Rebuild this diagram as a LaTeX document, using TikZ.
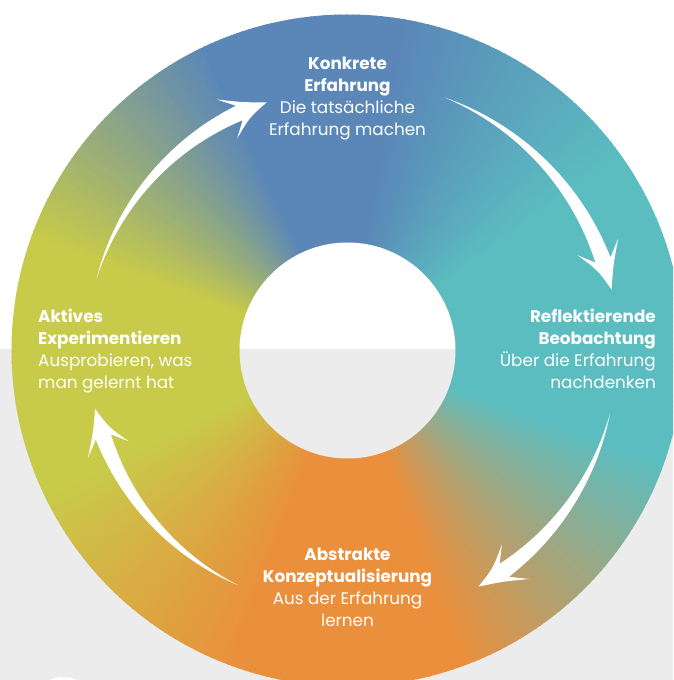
\documentclass[tikz,border=0pt]{standalone}
\usepackage{fontspec}
\setmainfont{Poppins}
\definecolor{cblue}{RGB}{90,135,184}
\definecolor{cteal}{RGB}{91,189,192}
\definecolor{corange}{RGB}{234,143,60}
\definecolor{cyellow}{RGB}{200,202,74}
\definecolor{bggray}{RGB}{236,236,236}
\newcommand\ringarrow[3]{% #1 tail angle, #2 tip angle, #3 radius
  \pgfmathsetmacro\sg{sign((#2)-(#1))}
  \pgfmathsetmacro\an{(#2)-\sg*6.5}
  \pgfmathsetmacro\ab{(#2)-\sg*9.5}
  \pgfmathsetmacro\am{((#2)+\ab)/2}
  \fill[white] plot[domain=0:1,samples=40] ({(#1)+(\an-(#1))*\x}:{#3+8*\x})
    -- ({\ab}:{#3+22}) .. controls ({\am}:{#3+8}) .. ({#2}:{#3})
    .. controls ({\am}:{#3-8}) .. ({\ab}:{#3-22})
    -- ({\an}:{#3-8})
    -- plot[domain=1:0,samples=40] ({(#1)+(\an-(#1))*\x}:{#3-8*\x}) -- cycle;
}
\tikzset{lbl/.style={text=white, inner sep=0pt, font=\fontsize{16.8}{22}\selectfont}}
\begin{document}
\begin{tikzpicture}[x=1pt,y=1pt]
\useasboundingbox (0,0) rectangle (673,680);
\clip (0,0) rectangle (673,680);
\fill[white] (0,330.5) rectangle (673,680);
\fill[bggray] (0,0) rectangle (673,330.5);
\fill[white] (63,-29) circle (32);
\begin{scope}[shift={(347.5,329.5)}]
  \foreach \sa/\ea/\ca/\cb in {-70/-20/corange/cteal, -20/35/cteal/cteal, 35/80/cteal/cblue, 80/115/cblue/cblue, 115/160/cblue/cyellow, 160/205/cyellow/cyellow, 205/250/cyellow/corange, 250/290/corange/corange}{
    \pgfmathtruncatemacro\eb{\ea-1}
    \foreach \a in {\sa,...,\eb}{
      \pgfmathtruncatemacro\p{100*(\ea-\a)/(\ea-\sa)}
      \colorlet{wc}{\ca!\p!\cb}
      \fill[wc] (0,0) -- (\a:336) arc[start angle=\a, end angle=\a+1.3, radius=336] -- cycle;
    }
  }
  \begin{scope}
    \clip (0,0) circle (108);
    \fill[white] (-120,1) rectangle (120,120);
    \fill[bggray] (-120,1) rectangle (120,-120);
  \end{scope}
  \ringarrow{164}{108}{261}
  \ringarrow{69}{13}{271}
  \ringarrow{-13.5}{-61}{270}
  \ringarrow{-115}{-167}{259}
\end{scope}
\node[lbl, anchor=base, align=center] (konk) at (347.5,544) {\textbf{Konkrete}\\\textbf{Erfahrung}\\Die tatsächliche\\Erfahrung machen};
\node[lbl, anchor=base east, align=right] (refl) at (656,291) {\textbf{Reflektierende}\hspace{4pt}\\\textbf{Beobachtung}\\Über die Erfahrung\\nachdenken};
\node[lbl, anchor=base west, align=left] (akt) at (38,291) {\textbf{Aktives}\\\textbf{Experimentieren}\\Ausprobieren, was\\man gelernt hat};
\node[lbl, anchor=base, align=center] (abs) at (347.5,53) {\textbf{Abstrakte}\\\textbf{Konzeptualisierung}\\Aus der Erfahrung\\lernen};
\end{tikzpicture}
\end{document}
